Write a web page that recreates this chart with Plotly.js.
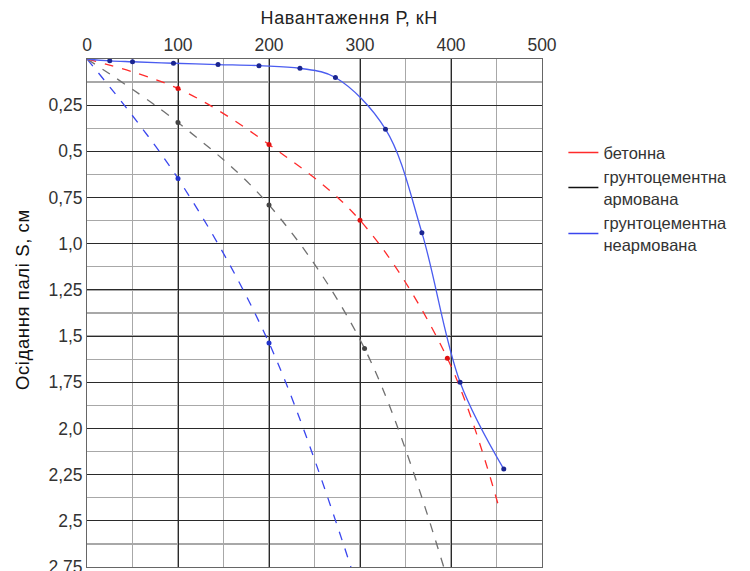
<!DOCTYPE html>
<html>
<head>
<meta charset="utf-8">
<script src="https://cdn.plot.ly/plotly-3.0.1.min.js"></script>
<style>
html,body{margin:0;padding:0;background:#fff;}
#chart{width:750px;height:571px;}
#chart .annotation-text{letter-spacing:0.6px;}
</style>
</head>
<body>
<div id="chart"></div>
<script>
// Load P (kN) and settlement S (cm)
const concreteP = [0, 100, 200, 300, 396, 453];
const concreteS = [0, 0.16, 0.463, 0.873, 1.62, 2.433];

const reinforcedP = [0, 100, 200, 305, 392];
const reinforcedS = [0, 0.344, 0.79, 1.567, 2.75];

const unreinforcedP = [0, 100, 200, 290];
const unreinforcedS = [0, 0.647, 1.537, 2.75];

const solidBlueP = [0, 25, 50, 95, 144, 189, 234, 273, 328, 368, 410, 458];
const solidBlueS = [0, 0.01, 0.015, 0.023, 0.03, 0.036, 0.05, 0.1, 0.38, 0.94, 1.75, 2.22];

const yTickVals = [0.25, 0.5, 0.75, 1.0, 1.25, 1.5, 1.75, 2.0, 2.25, 2.5, 2.75];
const yTickText = ["0,25", "0,5", "0,75", "1,0", "1,25", "1,5", "1,75", "2,0", "2,25", "2,5", "2,75"];
const xTickVals = [0, 100, 200, 300, 400, 500];
const xTickText = ["0", "100", "200", "300", "400", "500"];

const legendNames = ["бетонна", "грунтоцементна<br>армована", "грунтоцементна<br>неармована"];
const xTitle = 'Навантаження Р, кН';
const yTitle = 'Осідання палі S, см';

function lineTrace(x, y, color, dash) {
  return {x: x, y: y, mode: 'lines', type: 'scatter', showlegend: false, hoverinfo: 'skip',
    line: {color: color, width: 1.3, dash: dash, shape: 'spline', smoothing: 1}};
}
function markTrace(x, y, color) {
  return {x: x, y: y, mode: 'markers', type: 'scatter', showlegend: false, hoverinfo: 'skip',
    marker: {color: color, size: 5}};
}
function legTrace(name, color) {
  return {x: [null], y: [null], mode: 'lines', type: 'scatter', name: name,
    line: {color: color, width: 1.5}};
}

const traces = [
  lineTrace(unreinforcedP, unreinforcedS, '#3a46ee', 'dash'),
  markTrace(unreinforcedP.slice(1, 3), unreinforcedS.slice(1, 3), '#2233cc'),
  lineTrace(reinforcedP, reinforcedS, '#707070', 'dash'),
  markTrace(reinforcedP.slice(1, 4), reinforcedS.slice(1, 4), '#444'),
  lineTrace(concreteP, concreteS, '#ff2b2b', 'dash'),
  markTrace(concreteP.slice(1, 5), concreteS.slice(1, 5), '#e01010'),
  lineTrace(solidBlueP, solidBlueS, '#4a5cf0', 'solid'),
  markTrace(solidBlueP.slice(1), solidBlueS.slice(1), '#1a2590'),
  legTrace(legendNames[0], '#ff2b2b'),
  legTrace(legendNames[1], '#111'),
  legTrace(legendNames[2], '#3a46ee')
];

const font = {family: '"Liberation Sans", Arial, sans-serif', size: 17, color: '#222'};

const layout = {
  width: 750, height: 571,
  margin: {l: 87, r: 208, t: 59, b: 4},
  paper_bgcolor: '#fff', plot_bgcolor: '#fff',
  font: font,
  xaxis: {
    range: [0, 500], side: 'top', tickvals: xTickVals, ticktext: xTickText,
    showgrid: true, gridcolor: '#2a2a2a', gridwidth: 1,
    minor: {dtick: 50, tick0: 0, showgrid: true, gridcolor: '#a8a8a8', gridwidth: 1.2},
    showline: true, mirror: true, linecolor: '#666', linewidth: 1,
    zeroline: false, ticks: '', tickfont: {size: 17.5, color: '#333'}
  },
  yaxis: {
    range: [2.75, 0], tickvals: yTickVals, ticktext: yTickText, ticklabeloverflow: 'allow',
    showgrid: true, gridcolor: '#2a2a2a', gridwidth: 1,
    minor: {dtick: 0.125, tick0: 0, showgrid: true, gridcolor: '#a8a8a8', gridwidth: 1.2},
    showline: true, mirror: true, linecolor: '#666', linewidth: 1,
    zeroline: false, ticks: '', tickfont: {size: 17.5, color: '#333'}
  },
  legend: {
    x: 1.047, y: 0.85, xanchor: 'left', yanchor: 'top',
    font: {size: 16.5, color: '#333'}, bgcolor: 'rgba(0,0,0,0)', tracegroupgap: 0
  },
  annotations: [{
    text: xTitle, xref: 'x', yref: 'paper', x: 289, y: 1, yshift: 41,
    xanchor: 'center', yanchor: 'middle', showarrow: false,
    font: {size: 18, color: '#222'}
  }, {
    text: yTitle, xref: 'paper', yref: 'paper', x: 0, y: 0.525, xshift: -65,
    xanchor: 'center', yanchor: 'middle', showarrow: false, textangle: -90,
    font: {size: 18.5, color: '#111'}
  }]
};

Plotly.newPlot('chart', traces, layout, {displayModeBar: false, staticPlot: true});
</script>
</body>
</html>
